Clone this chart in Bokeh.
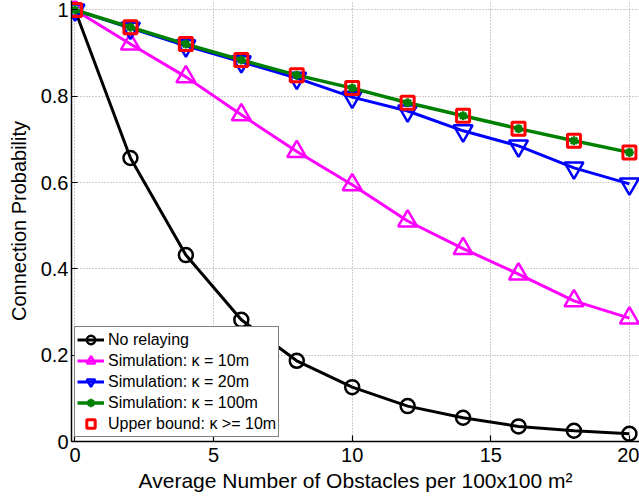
from bokeh.plotting import figure
from bokeh.models import Range1d, FixedTicker, Legend, LegendItem
from bokeh.embed import file_html
from bokeh.resources import INLINE

x = [0, 2, 4, 6, 8, 10, 12, 14, 16, 18, 20]
no_relay = [1.0, 0.657, 0.432, 0.282, 0.187, 0.126, 0.082, 0.055, 0.035, 0.025, 0.018]
sim_10 = [1.0, 0.921, 0.845, 0.757, 0.672, 0.595, 0.511, 0.447, 0.388, 0.326, 0.286]
sim_20 = [1.0, 0.958, 0.917, 0.880, 0.842, 0.798, 0.766, 0.720, 0.685, 0.634, 0.597]
sim_100 = [1.0, 0.960, 0.921, 0.884, 0.849, 0.819, 0.785, 0.755, 0.725, 0.697, 0.670]
upper = [1.0, 0.960, 0.921, 0.884, 0.849, 0.819, 0.785, 0.755, 0.725, 0.697, 0.670]

x_ticks = [0, 5, 10, 15, 20]
y_ticks = [0, 0.2, 0.4, 0.6, 0.8, 1.0]
y_tick_labels = ["0", "0.2", "0.4", "0.6", "0.8", "1"]

FONT = "Liberation Sans"

p = figure(width=639, height=499, output_backend="svg", toolbar_location=None,
           x_range=Range1d(-0.126, 20.364), y_range=Range1d(0.0, 1.022),
           min_border_left=71, min_border_right=0, min_border_top=0, min_border_bottom=58)
p.outline_line_color = None
p.background_fill_color = "white"

for ax in (p.xaxis[0], p.yaxis[0]):
    ax.major_tick_in = 6
    ax.major_tick_out = 0
    ax.minor_tick_line_color = None
    ax.axis_line_width = 1.5
    ax.major_tick_line_width = 1.2
    ax.major_label_text_font = FONT
    ax.major_label_text_font_size = "20px"
    ax.major_label_text_color = "black"
    ax.axis_label_text_font = FONT
    ax.axis_label_text_font_style = "normal"
    ax.axis_label_text_color = "black"

p.xaxis.ticker = FixedTicker(ticks=x_ticks)
p.yaxis.ticker = FixedTicker(ticks=y_ticks)
p.yaxis.major_label_overrides = {t: l for t, l in zip(y_ticks, y_tick_labels)}
p.xaxis.major_label_standoff = 6
p.yaxis.major_label_standoff = 3
p.xaxis.axis_label = "Average Number of Obstacles per 100x100 m\u00b2"
p.yaxis.axis_label = "Connection Probability"
p.xaxis.axis_label_text_font_size = "21px"
p.yaxis.axis_label_text_font_size = "20px"
p.xaxis.axis_label_standoff = 4
p.yaxis.axis_label_standoff = 8

for g, tk in ((p.xgrid[0], x_ticks), (p.ygrid[0], y_ticks)):
    g.ticker = FixedTicker(ticks=tk)
    g.grid_line_color = "#9a9a9a"
    g.grid_line_dash = "1 2"
    g.grid_line_width = 1

LW = 3
l1 = p.line(x, no_relay, line_color="black", line_width=LW)
s1 = p.scatter(x, no_relay, marker="circle", size=14, line_color="black", line_width=2.5, fill_color=None)
l2 = p.line(x, sim_10, line_color="#ff00ff", line_width=LW)
s2 = p.scatter(x, sim_10, marker="triangle", size=19, line_color="#ff00ff", line_width=2.5, fill_color=None)
l3 = p.line(x, sim_20, line_color="#0000ff", line_width=LW)
s3 = p.scatter(x, sim_20, marker="inverted_triangle", size=19, line_color="#0000ff", line_width=2.5, fill_color=None)
l4 = p.line(x, sim_100, line_color="#008000", line_width=LW + 0.5)
s4 = p.scatter(x, sim_100, marker="asterisk", size=9, line_color="#008000", line_width=2.5)
s5 = p.scatter(x, upper, marker="square", size=13, line_color="#ff0000", line_width=3, fill_color=None)

legend = Legend(items=[
    LegendItem(label="No relaying", renderers=[l1, s1]),
    LegendItem(label="Simulation: \u03ba = 10m", renderers=[l2, s2]),
    LegendItem(label="Simulation: \u03ba = 20m", renderers=[l3, s3]),
    LegendItem(label="Simulation: \u03ba = 100m", renderers=[l4, s4]),
    LegendItem(label="Upper bound: \u03ba >= 10m", renderers=[s5]),
], location=(3, 4))
legend.margin = 0
legend.padding = 2
legend.spacing = 0
legend.label_height = 21
legend.glyph_height = 21
legend.glyph_width = 27
legend.label_standoff = 4
legend.label_text_font = FONT
legend.label_text_font_size = "16px"
legend.label_text_color = "black"
legend.border_line_color = "black"
legend.border_line_width = 1.5
legend.background_fill_alpha = 1.0
p.add_layout(legend, "center")

open("out.html", "w").write(file_html(p, INLINE))
